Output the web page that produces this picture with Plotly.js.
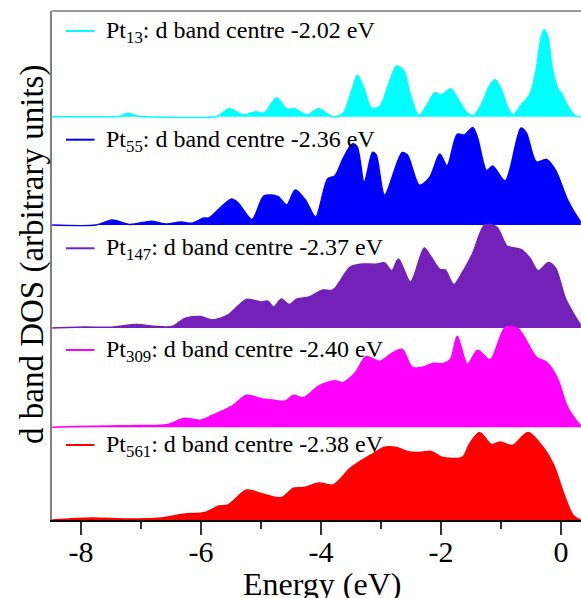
<!DOCTYPE html>
<html><head><meta charset="utf-8">
<script src="https://cdn.plot.ly/plotly-3.0.1.min.js"></script>
<style>html,body{margin:0;padding:0;background:#fff}</style>
</head><body><div id="chart" style="width:581px;height:598px"></div>
<script>
// Energy (eV) and d-band DOS (arbitrary units)
const E13=[-8.48,-7.5,-7.35,-7.22,-7.05,-6.9,-5.75,-5.53,-5.29,-5.09,-4.95,-4.74,-4.57,-4.44,-4.23,-4.04,-3.80,-3.63,-3.48,-3.39,-3.28,-3.16,-3.02,-2.88,-2.74,-2.62,-2.52,-2.37,-2.25,-2.10,-2.00,-1.84,-1.72,-1.58,-1.47,-1.33,-1.20,-1.10,-1.00,-0.88,-0.80,-0.66,-0.52,-0.42,-0.33,-0.28,-0.22,-0.15,-0.06,0.02,0.10,0.22,0.33];
const D13=[0,0,0.5,3.4,0.5,0,0,8,1.7,5,3.4,19,7.6,8,1.7,8,0,3.4,27.6,41.4,27.6,8.6,10.3,31,50.7,46,24,0.7,10,24,21.4,28,18,5,0.7,12,30,37,28,8,1.7,12,22,45,80,87,80,50,29,22,12,1.7,0];
const E55=[-8.48,-7.75,-7.48,-7.19,-6.82,-6.59,-6.33,-6.16,-5.95,-5.87,-5.70,-5.49,-5.38,-5.15,-4.95,-4.72,-4.57,-4.43,-4.26,-4.09,-3.89,-3.77,-3.63,-3.48,-3.40,-3.28,-3.14,-3.08,-2.94,-2.65,-2.56,-2.36,-2.19,-2.02,-1.90,-1.73,-1.61,-1.47,-1.39,-1.24,-1.14,-0.93,-0.67,-0.58,-0.41,-0.24,-0.09,0.11,0.31,0.33];
const D55=[0,0,5,0.5,3.8,1,3,1.7,7,7,16,26,22,5.5,29,28.6,20,35,25,8,46,49,66.6,81,78.6,43,72.7,70,30,72.4,70,39.7,47.6,71,59,90.7,90,97.6,87,54.5,59,44,96.9,92.4,63,65.5,54.5,25,4.5,3];
const E147=[-8.48,-7.94,-7.53,-7.07,-6.79,-6.47,-6.27,-6.01,-5.81,-5.55,-5.24,-5.00,-4.89,-4.79,-4.66,-4.53,-4.40,-4.20,-3.97,-3.80,-3.51,-3.28,-3.08,-2.94,-2.82,-2.71,-2.51,-2.28,-2.19,-2.02,-1.93,-1.79,-1.64,-1.47,-1.27,-1.07,-0.90,-0.67,-0.52,-0.38,-0.21,-0.09,0.08,0.31,0.33];
const D147=[0,1,0.7,3.4,1.7,1.7,9.6,11.4,8,13,28.6,26,27,21,29,23.4,29,31,38,38,61,64,63.8,65,57,69,46,80,73.4,58.6,58,43.4,56,75,103,101,82,78.6,70,57,65.5,59.7,28.6,4.5,3];
const E309=[-8.48,-8.11,-7.53,-7.01,-6.56,-6.27,-6.01,-5.81,-5.47,-5.24,-5.00,-4.78,-4.60,-4.46,-4.29,-4.03,-3.77,-3.63,-3.43,-3.25,-3.02,-2.82,-2.65,-2.48,-2.30,-2.13,-1.96,-1.84,-1.73,-1.56,-1.39,-1.18,-0.93,-0.72,-0.41,-0.24,-0.06,0.11,0.31,0.33];
const D309=[0,0.7,1.4,1.7,2.8,9,7,12,21.7,32,28.6,27,26,32,29.7,41.7,46.6,44.8,54.5,70.7,65.9,74,78,60,60,64,63.8,68,91,63,77,67.6,100,99,70,65,49,20,2.8,2];
const E561=[-8.48,-7.82,-7.25,-6.67,-6.27,-5.93,-5.70,-5.55,-5.24,-5.00,-4.66,-4.46,-4.29,-4.03,-3.80,-3.51,-3.34,-3.17,-2.94,-2.76,-2.53,-2.36,-2.16,-1.99,-1.64,-1.53,-1.36,-1.16,-1.01,-0.81,-0.55,-0.29,-0.12,0.05,0.20,0.31,0.33];
const D561=[0,2,1,2,5.9,7.6,14,15,30,26.6,22.4,31.7,32.4,37,35,52,59,65,72.8,72.8,68,67.6,68.6,62.8,62.8,75.5,87.6,75.5,78,74.5,87.6,72,54.8,25.5,4.8,0.3,0];

const clusterLabels=['Pt<sub>13</sub>: d band centre -2.02 eV','Pt<sub>55</sub>: d band centre -2.36 eV','Pt<sub>147</sub>: d band centre -2.37 eV','Pt<sub>309</sub>: d band centre -2.40 eV','Pt<sub>561</sub>: d band centre -2.38 eV'];
const tickVals=[-8,-6,-4,-2,0];
const tickText=['-8','-6','-4','-2','0'];

const energies=[E13,E55,E147,E309,E561];
const dos=[D13,D55,D147,D309,D561];
const colors=['#00FFFF','#0000FF','#7321B9','#FF00FF','#FF0000'];

// layout geometry (px)
const L=52, R=581, T=11, B=520, W=R-L, H=B-T;
const base=[116.7,225,328,427.3,520];
const legY=[31,139.7,248.3,350,445];
const px2x=p=>(p-L)/W, px2y=p=>(B-p)/H;
const serif='Liberation Serif, Times New Roman, serif';

const traces=[]; const layout={
  width:581,height:598,margin:{l:L,r:581-R,t:T,b:598-B},
  paper_bgcolor:'#fff',plot_bgcolor:'rgba(0,0,0,0)',showlegend:false,
  xaxis:{range:[-8.483,0.333],tickvals:tickVals,ticktext:tickText,ticks:'outside',ticklen:13,tickwidth:1.3,tickcolor:'#333',
    ticklabelstandoff:-9,
    minor:{tickvals:[-7,-5,-3,-1],ticks:'outside',ticklen:7,tickwidth:1.3,tickcolor:'#333'},
    showline:true,linecolor:'#000',linewidth:1.5,showgrid:false,zeroline:false,
    tickfont:{family:serif,size:30,color:'#000'},anchor:'y'},
  shapes:[],annotations:[]
};
for(let i=0;i<5;i++){
  const yName= i===4?'y':'y'+(i+2);
  const axKey= i===4?'yaxis':'yaxis'+(i+2);
  const b=base[i];
  let dom0, r0;
  if(i===4){dom0=0; r0=0;} else {dom0=px2y(b+1.5); r0=-1.5;}
  const hpx=(B-dom0*H)-T;
  layout[axKey]={domain:[dom0,1],range:[r0,r0+hpx],showticklabels:false,ticks:'',showgrid:false,zeroline:false,
    showline:i===4,linecolor:'#808080',linewidth:2,anchor:'x',fixedrange:true};
  traces.push({x:energies[i],y:dos[i],xaxis:'x',yaxis:yName,type:'scatter',mode:'lines',
    line:{color:colors[i],width:1.5,shape:'spline',smoothing:0.8},fill:'tozeroy',fillcolor:colors[i],hoverinfo:'skip'});
  layout.shapes.push({type:'line',xref:'paper',yref:'paper',x0:px2x(66),x1:px2x(94.5),y0:px2y(legY[i]),y1:px2y(legY[i]),line:{color:colors[i],width:2}});
  layout.annotations.push({xref:'paper',yref:'paper',x:px2x(104),y:px2y(legY[i]),xanchor:'left',yanchor:'middle',yshift:-1,
    text:clusterLabels[i],showarrow:false,font:{family:serif,size:24,color:'#000'}});
}
// top frame line
layout.shapes.push({type:'line',xref:'paper',yref:'paper',x0:0,x1:1,y0:1,y1:1,line:{color:'#333',width:1.2}});
// axis titles
layout.annotations.push({xref:'paper',yref:'paper',x:px2x(321.7),y:px2y(584),xanchor:'center',yanchor:'middle',
  text:'Energy (eV)',showarrow:false,font:{family:serif,size:32,color:'#000'}});
layout.annotations.push({xref:'paper',yref:'paper',x:px2x(32),y:px2y(255),xanchor:'center',yanchor:'middle',textangle:-90,
  text:'d band DOS (arbitrary units)',showarrow:false,font:{family:serif,size:33,color:'#000'}});

Plotly.newPlot('chart',traces,layout,{staticPlot:true,displayModeBar:false});
</script></body></html>
